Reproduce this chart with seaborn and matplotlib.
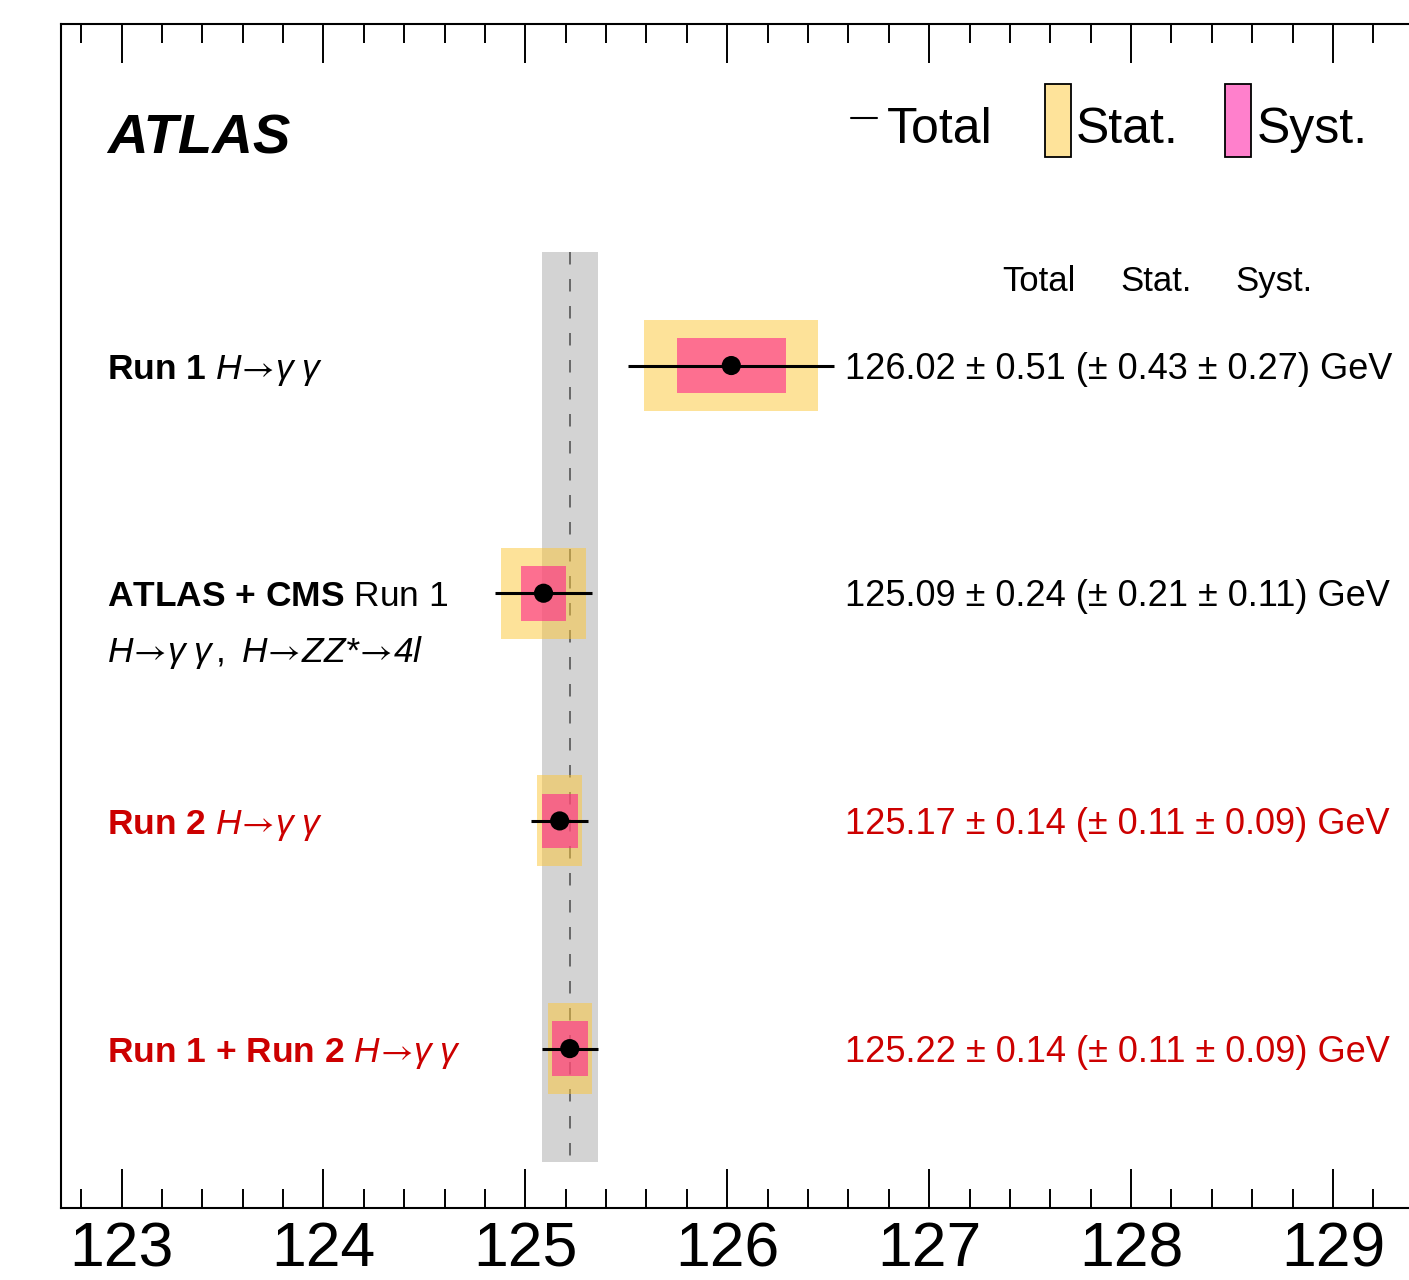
import numpy as np
import pandas as pd
import matplotlib
matplotlib.use("Agg")
import matplotlib.pyplot as plt
from matplotlib.patches import Rectangle
from matplotlib.lines import Line2D
from matplotlib.ticker import MultipleLocator
import seaborn as sns

# ---- measurements (GeV) ----
mass = [126.02, 125.09, 125.17, 125.22]
err_total = [0.51, 0.24, 0.14, 0.14]
err_stat = [0.43, 0.21, 0.11, 0.11]
err_syst = [0.27, 0.11, 0.09, 0.09]
row_colors = ["black", "black", "#CC0000", "#CC0000"]
ARROW = r"\!\mathcal{\rightarrow}\!"
GG = r"\gamma\;\gamma"
row_labels = [
    r"$\mathbf{Run\ 1}\ H" + ARROW + GG + "$",
    r"$\mathbf{ATLAS\ {+}\ CMS}\ \mathrm{Run\ 1}$",
    r"$\mathbf{Run\ 2}\ H" + ARROW + GG + "$",
    r"$\mathbf{Run\ 1\ {+}\ Run\ 2}\ H" + ARROW + GG + "$",
]
row1_sublabel = r"$H" + ARROW + GG + r"\,,\ H" + ARROW + r"ZZ\mathsf{*}" + ARROW + r"\mathsf{4l}$"
column_headers = ["Total", "Stat.", "Syst."]
xticks_major = [123, 124, 125, 126, 127, 128, 129]

rows = np.arange(len(mass))
df = pd.DataFrame({"mass": mass, "row": rows})

sns.set_theme(style="white")
plt.rcParams["font.family"] = ["Liberation Sans", "DejaVu Sans"]
plt.rcParams["text.color"] = "black"
plt.rcParams["xtick.color"] = "black"
plt.rcParams["mathtext.fontset"] = "custom"
plt.rcParams["mathtext.rm"] = "Liberation Sans"
plt.rcParams["mathtext.it"] = "Liberation Sans:italic"
plt.rcParams["mathtext.bf"] = "Liberation Sans:bold"
plt.rcParams["mathtext.sf"] = "Liberation Sans:italic"
plt.rcParams["mathtext.cal"] = "STIXGeneral"
plt.rcParams["mathtext.fallback"] = "stixsans"

W, H = 1409, 1280
fig = plt.figure(figsize=(W / 100, H / 100), dpi=100)
ax = fig.add_axes([61 / W, 1 - 1208 / H, 1352.7 / W, 1184 / H])

YELLOW = (253 / 255, 199 / 255, 53 / 255)
PINK = (254 / 255, 35 / 255, 139 / 255)

# combined-result band and reference line
m_c, e_c = mass[3], err_total[3]
ax.fill_betweenx([-0.5, 3.5], m_c - e_c, m_c + e_c, color="#D3D3D3", lw=0, zorder=1)
ax.vlines(m_c, -0.5, 3.5, colors="#555555", linestyles=(0, (7.5, 8.7)), lw=1.2, zorder=2)

# statistical and systematic boxes
stat = np.array(err_stat)
syst = np.array(err_syst)
m = np.array(mass)
ax.barh(rows, 2 * stat, left=m - stat, height=0.40, color=YELLOW, alpha=0.5, lw=0, zorder=3)
ax.barh(rows, 2 * syst, left=m - syst, height=0.24, color=PINK, alpha=0.6, lw=0, zorder=4)

# total uncertainty lines and central values
tot = np.array(err_total)
ax.hlines(rows, m - tot, m + tot, colors="black", lw=2.2, zorder=5)
sns.scatterplot(data=df, x="mass", y="row", color="black", s=190, edgecolor="none",
                zorder=6, ax=ax, legend=False)

ax.set_xlim(122.7, 129.4)
ax.set_ylim(3.70, -1.50)
ax.set_xlabel("")
ax.set_ylabel("")
ax.set_yticks([])
ax.set_xticks(xticks_major)
ax.xaxis.set_minor_locator(MultipleLocator(0.2))
ax.tick_params(axis="x", which="both", direction="in", top=True, bottom=True,
               colors="black", width=1.4)
ax.tick_params(axis="x", which="major", length=28, labelsize=45, pad=9)
ax.tick_params(axis="x", which="minor", length=14)
for sp in ax.spines.values():
    sp.set_linewidth(1.5)
    sp.set_color("black")

# row labels and values
x_lab = 122.928
x_val = 126.583
for i in rows:
    ax.text(x_lab, i + 0.057, row_labels[i], fontsize=25.5, color=row_colors[i],
            ha="left", va="baseline", zorder=7)
    txt = f"{mass[i]:.2f} ± {err_total[i]:.2f} (± {err_stat[i]:.2f} ± {err_syst[i]:.2f}) GeV"
    ax.text(x_val, i + 0.057, txt, fontsize=26, color=row_colors[i],
            ha="left", va="baseline", zorder=7)
ax.text(x_lab, 1.304, row1_sublabel, fontsize=25.5, color="black",
        ha="left", va="baseline", zorder=7)

for cx, h in zip([127.544, 128.123, 128.71], column_headers):
    ax.text(cx, -0.329, h, fontsize=25, ha="center", va="baseline", color="black")

# figure-level header: experiment tag and legend
def fp(x, y):
    return x / W, 1 - y / H

fig.text(*fp(107, 153), "ATLAS", fontsize=40.5, fontweight="bold", fontstyle="italic",
         ha="left", va="baseline", color="black")
(x0, y0), (x1, _) = fp(851, 118), fp(877, 118)
fig.add_artist(Line2D([x0, x1], [y0, y0], color="black", lw=1.5, transform=fig.transFigure))
fig.text(*fp(887, 143), "Total", fontsize=36, ha="left", va="baseline", color="black")

for (rx, face, lab, tx) in [(1045, "#FEE39A", "Stat.", 1076), (1225, "#FF80CC", "Syst.", 1257)]:
    bx, by = fp(rx, 157)
    fig.add_artist(Rectangle((bx, by), 26 / W, 73 / H, facecolor=face, edgecolor="black",
                             lw=1.3, transform=fig.transFigure))
    fig.text(*fp(tx, 143), lab, fontsize=36, ha="left", va="baseline", color="black")

fig.savefig("out.png", dpi=100)
